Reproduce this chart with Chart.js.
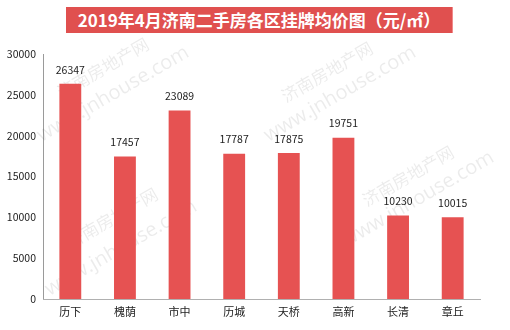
<!DOCTYPE html>
<html>
<head>
<meta charset="utf-8">
<script src="https://cdn.jsdelivr.net/npm/chart.js@4/dist/chart.umd.min.js"></script>
<style>
  html, body { margin: 0; padding: 0; background: #fff; }
  #wrap { position: relative; width: 510px; height: 330px; }
  #title {
    position: absolute; left: 66px; top: 7px; width: 386px; height: 26px;
    background: #E0504F; border-right: 1px solid #f08a8a;
    color: #fff; font: bold 17px "Noto Sans CJK SC", sans-serif;
    line-height: 26px; text-align: center; letter-spacing: 0px; z-index: 2;
  }
  canvas { position: absolute; left: 0; top: 0; }
</style>
</head>
<body>
<div id="wrap">
  <div id="title">2019年4月济南二手房各区挂牌均价图（元/㎡）</div>
  <canvas id="c" width="510" height="330"></canvas>
</div>
<script>
// 各区挂牌均价（元/㎡）
const districts = ['历下', '槐荫', '市中', '历城', '天桥', '高新', '长清', '章丘'];
const avgPrice = [26347, 17457, 23089, 17787, 17875, 19751, 10230, 10015];
const yTicks = [0, 5000, 10000, 15000, 20000, 25000, 30000];

const numFont = { family: '"Noto Sans CJK SC", "Open Sans", sans-serif', size: 10.5 };

// 背景水印
const watermark = {
  id: 'watermark',
  beforeDatasetsDraw(chart) {
    const ctx = chart.ctx;
    const marks = [
      [103, 68, 113, 94], [327, 72, 340, 94],
      [112, 218, 121, 248], [408, 176, 418, 199]
    ];
    ctx.save();
    ctx.fillStyle = 'rgba(0,0,0,0.08)';
    ctx.textAlign = 'center';
    ctx.textBaseline = 'middle';
    marks.forEach(([x1, y1, x2, y2]) => {
      ctx.save();
      ctx.translate(x1, y1);
      ctx.rotate(-30 * Math.PI / 180);
      ctx.font = '17px "Noto Sans CJK SC", sans-serif';
      ctx.fillText('济南房地产网', 0, 0);
      ctx.restore();
      ctx.save();
      ctx.translate(x2, y2);
      ctx.rotate(-30 * Math.PI / 180);
      ctx.font = '20px "Open Sans", sans-serif';
      ctx.fillText('www.jnhouse.com', 0, 0);
      ctx.restore();
    });
    ctx.restore();
  }
};

// 柱顶数值标签
const valueLabels = {
  id: 'valueLabels',
  afterDatasetsDraw(chart) {
    const ctx = chart.ctx;
    const meta = chart.getDatasetMeta(0);
    ctx.save();
    ctx.fillStyle = '#222';
    ctx.font = `${numFont.size}px ${numFont.family}`;
    ctx.textAlign = 'center';
    ctx.textBaseline = 'bottom';
    meta.data.forEach((bar, i) => {
      ctx.fillText(String(chart.data.datasets[0].data[i]), bar.x, bar.y - 9);
    });
    ctx.restore();
  }
};

new Chart(document.getElementById('c'), {
  type: 'bar',
  data: {
    labels: districts,
    datasets: [{
      data: avgPrice,
      backgroundColor: '#E65252',
      borderWidth: 0,
      categoryPercentage: 1,
      barPercentage: 0.4
    }]
  },
  options: {
    responsive: false,
    animation: false,
    devicePixelRatio: 1,
    layout: { padding: { top: 54, right: 30, left: 0, bottom: 0 } },
    plugins: { legend: { display: false }, tooltip: { enabled: false } },
    scales: {
      y: {
        min: 0, max: 30000,
        afterBuildTicks(scale) { scale.ticks = yTicks.map(v => ({ value: v })); },
        afterFit(scale) { scale.width = 43; },
        grid: { display: false, drawTicks: false },
        border: { color: '#9a9a9a', width: 1 },
        ticks: { color: '#222', font: numFont, padding: 7, callback: v => String(v) }
      },
      x: {
        afterFit(scale) { scale.height = 31; },
        grid: { display: false, drawTicks: false },
        border: { color: '#b0b0b0', width: 1 },
        ticks: { color: '#222', font: { family: '"Noto Sans CJK SC", sans-serif', size: 11 }, padding: 6 }
      }
    }
  },
  plugins: [watermark, valueLabels]
});
</script>
</body>
</html>
